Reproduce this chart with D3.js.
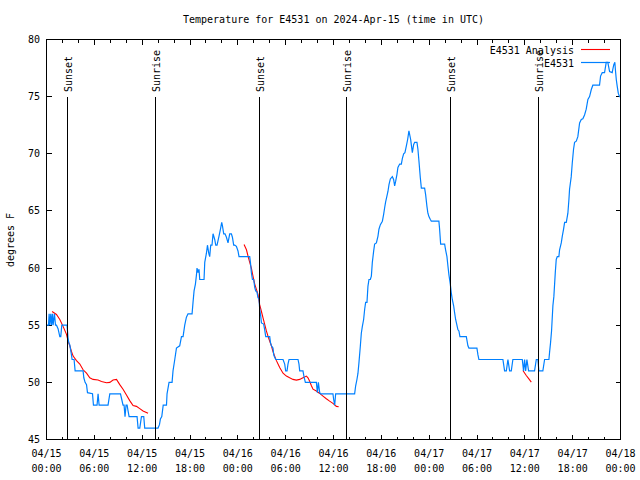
<!DOCTYPE html>
<html><head><meta charset="utf-8">
<script src="https://cdn.jsdelivr.net/npm/d3@7"></script>
<style>
body{margin:0;background:#fff}
svg{display:block}
text{font-family:"DejaVu Sans Mono",monospace;font-size:10px;fill:#000}
</style>
</head><body>
<svg id="c" width="640" height="480"></svg>
<script>
// ---- data ----
const titleText = "Temperature for E4531 on 2024-Apr-15 (time in UTC)";
const yLabel = "degrees F";
const seriesNames = ["E4531 Analysis", "E4531"];
const yTicks = [45, 50, 55, 60, 65, 70, 75, 80];

// observed E4531 (hours after 2024-04-15 00:00 UTC, deg F)
const obsHours = [
 0,0.25,0.33,0.41,0.54,0.63,0.75,0.83,1.00,1.13,
 1.25,1.45,1.67,1.79,1.92,2.51,2.58,2.71,2.83,2.92,
 3.01,3.13,3.21,3.46,3.59,4.59,4.68,4.84,5.02,5.14,
 5.77,5.89,6.34,6.47,6.60,7.72,7.94,9.28,9.44,9.60,
 9.73,9.85,9.98,10.11,10.23,10.36,11.36,11.49,11.70,11.91,
 12.20,12.32,13.99,14.17,14.29,14.46,14.64,15.05,15.12,15.37,
 15.75,15.87,16.09,16.30,16.71,16.93,17.13,17.34,17.55,17.75,
 18.26,18.38,18.51,18.68,18.81,18.88,19.01,19.13,19.22,19.76,
 19.85,20.06,20.19,20.35,20.47,20.60,20.76,20.89,21.10,21.23,
 21.39,21.64,21.82,21.98,22.07,22.23,22.39,22.57,22.77,22.98,
 23.19,23.32,23.48,23.61,23.82,24.02,24.15,25.49,25.58,25.70,
 25.83,25.99,26.12,26.24,26.40,26.53,26.66,26.74,26.87,26.96,
 27.24,27.37,27.50,28.00,28.09,28.21,28.41,28.50,28.62,28.75,
 29.67,29.88,30.00,30.17,30.29,30.42,31.55,31.67,31.76,32.17,
 32.30,32.47,33.85,33.98,34.10,34.27,34.39,35.93,36.02,36.15,
 36.27,38.65,38.78,38.94,39.07,39.19,39.37,39.49,39.62,39.78,
 39.91,40.03,40.20,40.32,40.45,40.62,40.75,40.87,41.04,41.16,
 41.38,41.58,41.70,41.88,42.13,42.29,42.42,42.54,42.70,42.83,
 42.96,43.13,43.38,43.54,43.67,43.80,43.96,44.08,44.30,44.51,
 44.64,44.80,44.96,45.14,45.30,45.46,45.55,45.68,45.76,45.89,
 45.96,46.05,46.18,46.47,46.59,46.72,46.89,47.02,47.43,47.56,
 47.72,47.84,47.97,48.15,48.27,49.22,49.31,49.44,49.94,50.06,
 50.23,50.35,50.48,50.65,50.78,50.90,51.07,51.19,51.32,51.48,
 51.61,51.73,51.86,52.66,52.86,52.99,53.99,54.12,54.24,57.25,
 57.46,57.68,57.88,58.09,58.30,58.50,59.68,59.84,59.97,60.10,
 60.26,60.47,61.22,61.44,61.64,61.76,62.26,62.48,63.02,63.10,
 63.23,63.35,63.52,63.64,63.82,63.94,64.07,64.27,64.36,64.57,
 64.70,64.86,64.99,65.20,65.40,65.53,65.61,65.82,65.95,66.11,
 66.24,66.45,66.65,66.87,67.08,67.28,67.49,67.70,67.91,68.12,
 68.33,68.53,69.37,69.50,69.71,70.00,70.21,70.41,70.63,70.96,
 71.04,71.16,71.29,71.38,71.47,71.59,71.72,71.88,72.00
];
const obsTemps = [
 55,55,56,55,56,55,56,55,56,55,
 55,54.7,54,54,55,55,55,53.8,53.4,53.3,
 52.9,52.4,52,52,51,51,50.4,50,49.8,49.1,
 49,48,48,49,48,48,49,49,48.5,48,
 48,47,48,48,47.5,47,47,46,46,47,
 47,46,46,46.3,46.8,47,48,48,49,50,
 50,51,52,53,53.2,54,54,55,55.7,56,
 56,57,58,58.6,59.4,60,59.6,59.9,59,59,
 60.5,61.3,62,61.3,61,62,62,63,62.5,62,
 62,62.8,63.4,64,63.7,63,63,62.7,62.2,63,
 63,62.7,62,62,61.9,61.5,61,61,60.5,59.6,
 59,59,58.3,58,57.9,57.4,57.3,56.4,55.8,55.2,
 55.1,54.6,54,54,53.5,53.2,53,52.4,52.2,52,
 52,51.6,51,51,51.6,52,52,51.6,51,51,
 50.5,50,50,49.1,50,49.1,49,49,48.5,48,
 49,49,49.7,50.25,50.8,51.7,53.2,54.3,54.9,55.5,
 56.4,57,57,58.4,59,59,59.3,60.5,61.5,62.1,
 62.2,62.8,63.4,63.8,64.1,64.7,65.3,65.8,66.3,66.7,
 67.3,67.8,68,67.75,67.2,67.6,68.2,68.8,69.1,69.1,
 69.6,70,70.1,70.7,71.25,72,71.7,71.25,70.8,70.1,
 70.4,70.8,71,71,70.4,69.35,67.9,67,67,66.4,
 65.4,64.8,64.5,64.25,64.1,64.1,63.4,62.1,62.1,61.6,
 61,60.2,59.4,58.6,57.8,57.25,56.7,56.1,55.5,55,
 54.6,54.5,54,54,53.2,53,53,52.4,52,52,
 51,51,52,51,51,52,52,51,52,51,
 52,51,51,52,52,51,51,52,52,52.6,
 53.5,54.5,56.7,57.5,59.6,60.75,61,61,61.6,62.2,
 62.8,63.4,64,64,64.8,66,66.9,68,69.2,70.4,
 71,71.1,71.5,72.7,73,73.06,73.4,73.9,74.75,75,
 75.6,76,76,76.8,77.1,77.1,78,78,77.2,77.1,
 77.4,77.8,78,77.2,76.5,75.9,75.3,75,75
];

// analysis segments
const ana1Hours = [0.70,1.25,1.67,2.08,2.51,2.71,2.92,3.13,3.34,3.76,4.18,4.59,5.02,5.43,5.84,6.47,6.90,7.52,7.94,8.35,8.78,9.19,9.60,10.03,10.44,10.86,11.28,11.70,12.11,12.74];
const ana1Temps = [56.2,55.94,55.5,54.9,54.2,53.6,53.2,52.7,52.3,51.9,51.6,51.1,50.8,50.4,50.26,50.2,50.08,49.96,50.0,50.2,50.26,49.8,49.4,48.9,48.4,47.98,47.9,47.7,47.5,47.3];
const ana2Hours = [24.78,25.08,25.28,25.49,25.70,25.90,26.12,26.33,26.53,26.74,26.96,27.16,27.37,27.58,27.78,28.00,28.21,28.41,28.62,28.84,29.25,29.67,30.09,30.50,30.92,31.34,31.76,32.17,32.60,32.80,33.01,33.23,33.43,33.85,34.27,34.68,35.10,35.51,35.93,36.36,36.65];
const ana2Temps = [62.07,61.6,61.05,60.5,60.0,59.3,58.6,58.13,57.7,56.8,56.2,55.65,55.07,54.5,54.05,53.6,53.2,52.7,52.3,51.9,51.3,50.8,50.55,50.4,50.26,50.2,50.26,50.4,50.55,50.4,50.1,49.7,49.4,49.24,49.03,48.8,48.57,48.36,48.16,47.9,47.87];
const ana3Hours = [59.76,60.18,60.51,60.81];
const ana3Temps = [51.04,50.6,50.3,50.02];

// sunrise / sunset markers
const sunLabels = ["Sunset","Sunrise","Sunset","Sunrise","Sunset","Sunrise"];
const sunHours = [2.58,13.62,26.68,37.59,50.71,61.66];

// ---- drawing ----
const svg = d3.select("#c");
const L = 46.5, R = 620.5, T = 39.5, B = 439.5;
const base = Date.UTC(2024, 3, 15);
const toDate = h => new Date(base + h * 3600000);
const x = d3.scaleUtc().domain([toDate(0), toDate(72)]).range([L, R]);
const y = d3.scaleLinear().domain([45, 80]).range([B, T]);

svg.append("defs").append("clipPath").attr("id","clip")
  .append("rect").attr("x", L).attr("y", T).attr("width", R - L).attr("height", B - T);

// title
svg.append("text").attr("x", (L + R) / 2).attr("y", 23).attr("text-anchor","middle").text(titleText);

// y label
svg.append("text").attr("transform","translate(14,240) rotate(-90)").attr("text-anchor","middle").text(yLabel);

// ticks
const axisG = svg.append("g").attr("stroke","#000").attr("stroke-width",1).attr("shape-rendering","crispEdges");
const xTicks = d3.utcHour.every(2).range(toDate(0), toDate(72.01));
xTicks.forEach(d => {
  const major = d.getUTCHours() % 6 === 0;
  const len = major ? 5 : 3;
  const px = Math.round(x(d) - 0.5) + 0.5;
  axisG.append("line").attr("x1", px).attr("x2", px).attr("y1", B).attr("y2", B - len);
  axisG.append("line").attr("x1", px).attr("x2", px).attr("y1", T).attr("y2", T + len);
});
yTicks.forEach(v => {
  const py = Math.round(y(v) - 0.5) + 0.5;
  axisG.append("line").attr("x1", L).attr("x2", L + 5).attr("y1", py).attr("y2", py);
  axisG.append("line").attr("x1", R).attr("x2", R - 5).attr("y1", py).attr("y2", py);
});

// x tick labels
const fmtD = d3.utcFormat("%m/%d"), fmtT = d3.utcFormat("%H:%M");
d3.utcHour.every(6).range(toDate(0), toDate(72.01)).forEach(d => {
  const t = svg.append("text").attr("text-anchor","middle");
  t.append("tspan").attr("x", x(d)).attr("y", 457).text(fmtD(d));
  t.append("tspan").attr("x", x(d)).attr("y", 472).text(fmtT(d));
});
// y tick labels
yTicks.forEach(v => {
  svg.append("text").attr("x", 40).attr("y", y(v)).attr("dy","0.35em").attr("text-anchor","end").text(v);
});

// data lines
const line = d3.line().x(d => x(toDate(d[0]))).y(d => y(d[1]));
const dataG = svg.append("g").attr("clip-path","url(#clip)");
[[ana1Hours, ana1Temps],[ana2Hours, ana2Temps],[ana3Hours, ana3Temps]].forEach(([hs, ts]) => {
  dataG.append("path").datum(hs.map((h, i) => [h, ts[i]]))
    .attr("fill","none").attr("stroke","#ff0000").attr("stroke-width",1.1).attr("d", line);
});
dataG.append("path").datum(obsHours.map((h, i) => [h, obsTemps[i]]))
  .attr("fill","none").attr("stroke","#0080ff").attr("stroke-width",1.2).attr("d", line);

// sun markers
sunHours.forEach((h, i) => {
  const px = Math.round(x(toDate(h)) - 0.5) + 0.5;
  svg.append("line").attr("x1", px).attr("x2", px).attr("y1", 97).attr("y2", B)
    .attr("stroke","#000").attr("stroke-width",1).attr("shape-rendering","crispEdges");
  svg.append("text").attr("transform", `translate(${px + 4},92) rotate(-90)`).text(sunLabels[i]);
});

// legend
const legY = [54, 67], legCol = ["#ff0000", "#0080ff"];
seriesNames.forEach((n, i) => {
  svg.append("text").attr("x", 574).attr("y", legY[i]).attr("text-anchor","end").text(n);
  svg.append("line").attr("x1", 581).attr("x2", 610).attr("y1", legY[i] - 4.5).attr("y2", legY[i] - 4.5)
    .attr("stroke", legCol[i]).attr("stroke-width", i ? 1.2 : 1.1);
});

// border
svg.append("rect").attr("x", L).attr("y", T).attr("width", R - L).attr("height", B - T)
  .attr("fill","none").attr("stroke","#000").attr("stroke-width",1).attr("shape-rendering","crispEdges");
</script>
</body></html>
